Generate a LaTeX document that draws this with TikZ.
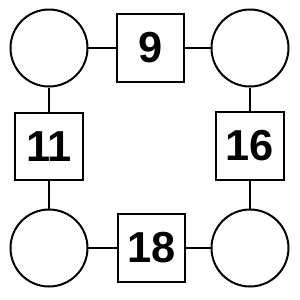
\documentclass[tikz,border=0pt]{standalone}
\usepackage{fontspec}
\setmainfont{Liberation Sans}
\usetikzlibrary{positioning}

\begin{document}
\begin{tikzpicture}[
    x=0.03cm, y=-0.03cm,
    circ/.style={circle, draw, line width=1.7pt, minimum size=2.31cm, inner sep=0pt},
    sq/.style={rectangle, draw, line width=1.7pt, minimum width=2.02cm,
               minimum height=2.02cm, inner sep=0pt,
               font=\fontsize{37}{42}\selectfont\bfseries},
    link/.style={line width=1.7pt}
]
\useasboundingbox (0,0) rectangle (300,300);
\node[circ] (tl) at (49, 48) {};
\node[circ] (tr) at (250, 48) {};
\node[circ] (bl) at (49, 248) {};
\node[circ] (br) at (250, 248) {};
\node[sq] (top) at (150.5, 48) {9};
\node[sq] (lft) at (49, 146.5) {11};
\node[sq] (rgt) at (250, 146) {16};
\node[sq] (bot) at (151.5, 248) {18};
\draw[link] (tl) -- (top);
\draw[link] (top) -- (tr);
\draw[link] (tl) -- (lft);
\draw[link] (lft) -- (bl);
\draw[link] (tr) -- (rgt);
\draw[link] (rgt) -- (br);
\draw[link] (bl) -- (bot);
\draw[link] (bot) -- (br);
\end{tikzpicture}
\end{document}
